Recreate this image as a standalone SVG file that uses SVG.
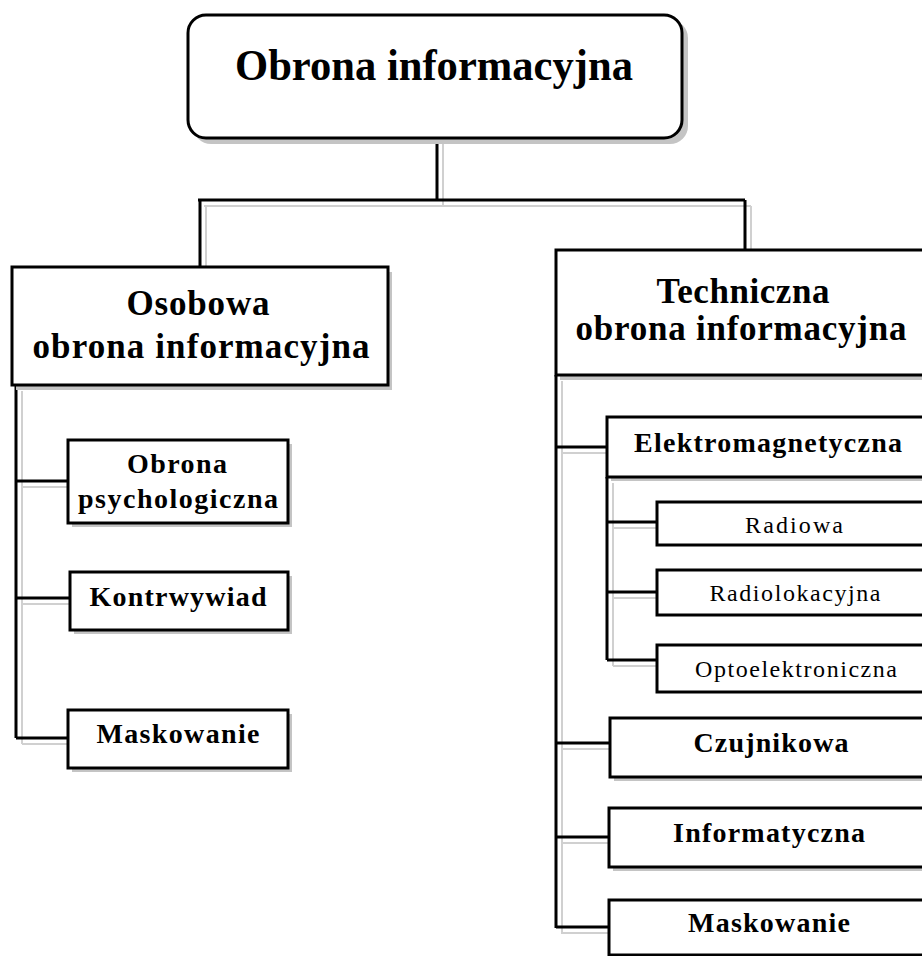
<svg xmlns="http://www.w3.org/2000/svg" xmlns:xlink="http://www.w3.org/1999/xlink" width="922" height="956" viewBox="0 0 922 956">
  <style>
    .box { fill: #ffffff; stroke: #000000; stroke-width: 3; }
    .shadow { fill: #c4c4c4; stroke: none; }
    .wire { fill: none; stroke: #000000; stroke-width: 3; }
    .wire-shadow { fill: none; stroke: #d0d0d0; stroke-width: 2; }
    .t { font-family: "Liberation Serif", "Times New Roman", serif; fill: #000000; text-anchor: middle; }
    .b { font-weight: bold; }
    .h1 { font-size: 44px; }
    .h2 { font-size: 35px; }
    .h3 { font-size: 28px; }
    .h4 { font-size: 24px; }
  </style>
  <defs>
    <path id="wires" d="M437,138 V200 M198,200 H745 M200,200 V267 M745,200 V250
      M16,385 V738 M16,481 H68 M16,598 H70 M16,738 H68
      M556,375 V928 M556,447 H607 M556,743 H610 M556,837 H609 M556,927 H609
      M607,477 V660 M607,522 H657 M607,592 H657 M607,660 H657"/>
  </defs>
  <rect width="922" height="956" fill="#ffffff"/>

  <!-- connectors -->
  <g id="connectors">
    <use xlink:href="#wires" class="wire-shadow" transform="translate(6,6)"/>
    <use xlink:href="#wires" class="wire"/>
  </g>

  <!-- root -->
  <g id="root">
    <rect class="shadow" x="193" y="20" width="495" height="124" rx="18"/>
    <rect class="box" x="188" y="15" width="494" height="123" rx="18"/>
    <text class="t b h1" x="434" y="80" textLength="398" lengthAdjust="spacingAndGlyphs">Obrona informacyjna</text>
  </g>

  <!-- personal branch -->
  <g id="osobowa">
    <rect class="shadow" x="16" y="272" width="376" height="118"/>
    <rect class="box" x="12" y="267" width="376" height="118"/>
    <text class="t b h2" x="198" y="315" textLength="143">Osobowa</text>
    <text class="t b h2" x="201" y="358" textLength="337">obrona informacyjna</text>
  </g>
  <g id="psychologiczna">
    <rect class="shadow" x="72" y="444" width="220" height="83"/>
    <rect class="box" x="68" y="440" width="220" height="83"/>
    <text class="t b h3" x="177" y="473" textLength="100">Obrona</text>
    <text class="t b h3" x="178" y="508" textLength="200">psychologiczna</text>
  </g>
  <g id="kontrwywiad">
    <rect class="shadow" x="74" y="576" width="218" height="58"/>
    <rect class="box" x="70" y="572" width="218" height="58"/>
    <text class="t b h3" x="178" y="606" textLength="177">Kontrwywiad</text>
  </g>
  <g id="maskowanie-o">
    <rect class="shadow" x="72" y="714" width="220" height="58"/>
    <rect class="box" x="68" y="710" width="220" height="58"/>
    <text class="t b h3" x="178" y="743" textLength="163">Maskowanie</text>
  </g>

  <!-- technical branch -->
  <g id="techniczna">
    <rect class="shadow" x="560" y="255" width="380" height="125"/>
    <rect class="box" x="556" y="250" width="380" height="125"/>
    <text class="t b h2" x="743" y="303" textLength="173">Techniczna</text>
    <text class="t b h2" x="741" y="340" textLength="331">obrona informacyjna</text>
  </g>
  <g id="elektromagnetyczna">
    <rect class="shadow" x="611" y="421" width="330" height="60"/>
    <rect class="box" x="607" y="417" width="330" height="60"/>
    <text class="t b h3" x="768" y="452" textLength="268">Elektromagnetyczna</text>
  </g>
  <g id="radiowa">
    <rect class="box" x="657" y="502" width="280" height="43"/>
    <text class="t h4" x="794" y="533" textLength="98">Radiowa</text>
  </g>
  <g id="radiolokacyjna">
    <rect class="box" x="657" y="570" width="280" height="45"/>
    <text class="t h4" x="795" y="601" textLength="171">Radiolokacyjna</text>
  </g>
  <g id="optoelektroniczna">
    <rect class="box" x="657" y="645" width="280" height="47"/>
    <text class="t h4" x="796" y="677" textLength="202">Optoelektroniczna</text>
  </g>
  <g id="czujnikowa">
    <rect class="shadow" x="614" y="722" width="330" height="59"/>
    <rect class="box" x="610" y="718" width="330" height="59"/>
    <text class="t b h3" x="771" y="752" textLength="155">Czujnikowa</text>
  </g>
  <g id="informatyczna">
    <rect class="shadow" x="613" y="812" width="330" height="59"/>
    <rect class="box" x="609" y="808" width="330" height="59"/>
    <text class="t b h3" x="769" y="842" textLength="192">Informatyczna</text>
  </g>
  <g id="maskowanie-t">
    <rect class="box" x="609" y="900" width="330" height="55"/>
    <text class="t b h3" x="769" y="932" textLength="162">Maskowanie</text>
  </g>
</svg>
